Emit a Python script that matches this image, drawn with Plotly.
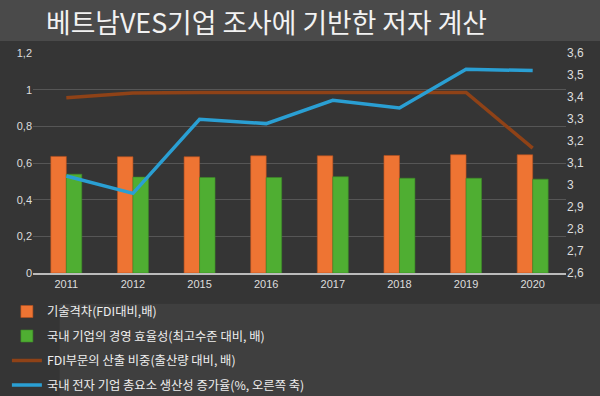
import plotly.graph_objects as go

years = ["2011", "2012", "2015", "2016", "2017", "2018", "2019", "2020"]
tech_gap = [0.636, 0.634, 0.634, 0.639, 0.639, 0.641, 0.645, 0.645]
mgmt_eff = [0.539, 0.523, 0.521, 0.521, 0.525, 0.517, 0.517, 0.512]
fdi_share = [0.956, 0.982, 0.985, 0.985, 0.987, 0.987, 0.985, 0.681]
tfp_growth = [3.041, 2.962, 3.299, 3.279, 3.385, 3.350, 3.526, 3.520]

names = [
    "기술격차(FDI대비,배)",
    "국내 기업의 경영 효율성(최고수준 대비, 배)",
    "FDI부문의 산출 비중(출산량 대비, 배)",
    "국내 전자 기업 총요소 생산성 증가율(%, 오른쪽 축)",
]
title_text = "베트남VES기업 조사에 기반한 저자 계산"
left_ticks = [0, 0.2, 0.4, 0.6, 0.8, 1.0, 1.2]
left_labels = ["0", "0,2", "0,4", "0,6", "0,8", "1", "1,2"]
right_ticks = [2.6, 2.7, 2.8, 2.9, 3.0, 3.1, 3.2, 3.3, 3.4, 3.5, 3.6]
right_labels = ["2,6", "2,7", "2,8", "2,9", "3", "3,1", "3,2", "3,3", "3,4", "3,5", "3,6"]

font = "Noto Sans CJK KR"
tick_font = "Liberation Sans"

fig = go.Figure()
fig.add_trace(go.Bar(x=years, y=tech_gap, name=names[0], legendgroup="a",
                     marker=dict(color="#ee7433", line=dict(color="#b8501e", width=0.6))))
fig.add_trace(go.Bar(x=years, y=mgmt_eff, name=names[1], legendgroup="b",
                     marker=dict(color="#4fae32", line=dict(color="#3d8a26", width=0.6))))
fig.add_trace(go.Scatter(x=years, y=fdi_share, name=names[2], legendgroup="c", mode="lines",
                         line=dict(color="#8f4217", width=3.5)))
fig.add_trace(go.Scatter(x=years, y=tfp_growth, name=names[3], legendgroup="d", mode="lines",
                         yaxis="y2", line=dict(color="#2a9fd3", width=3.5)))

# title band
fig.add_shape(type="rect", xref="paper", yref="paper", x0=-0.07, x1=1.07, y0=1.055, y1=1.26,
              fillcolor="#4a4a4a", line=dict(width=0), layer="below")
# legend band
fig.add_shape(type="rect", xref="paper", yref="paper", x0=0.05, x1=1.07, y0=-0.14, y1=-0.58,
              fillcolor="#3f3f3f", line=dict(width=0), layer="below")

fig.add_annotation(text=title_text, xref="paper", yref="paper", x=0.439, y=1.141,
                   showarrow=False, xanchor="center", yanchor="middle",
                   font=dict(family=font, size=26.8, color="#f2f2f2"))

fig.update_layout(
    width=600, height=396,
    margin=dict(l=33, r=34, t=53, b=123, autoexpand=False),
    paper_bgcolor="#353535",
    plot_bgcolor="rgba(0,0,0,0)",
    font=dict(family=font, color="#dddddd", size=11),
    barmode="group",
    bargap=0.535,
    bargroupgap=0,
    showlegend=True,
    legend=dict(
        orientation="v", x=-0.049, xanchor="left",
        yref="container", y=0.25, yanchor="top",
        traceorder="grouped", tracegroupgap=5.5,
        font=dict(family=font, size=12.3, color="#eeeeee"),
        bgcolor="rgba(0,0,0,0)", itemwidth=30,
    ),
    xaxis=dict(
        showgrid=False, tickfont=dict(family=tick_font, size=11, color="#dddddd"),
        showline=True, linecolor="#bbbbbb", linewidth=1.5, ticks="",
    ),
    yaxis=dict(
        range=[0, 1.2], tickvals=left_ticks, ticktext=left_labels,
        showgrid=True, gridcolor="#565656", gridwidth=1, zeroline=False,
        tickfont=dict(family=tick_font, size=11, color="#dddddd"), ticks="",
    ),
    yaxis2=dict(
        range=[2.6, 3.6], tickvals=right_ticks, ticktext=right_labels,
        overlaying="y", side="right", showgrid=False, zeroline=False,
        tickfont=dict(family=tick_font, size=12, color="#dddddd"), ticks="",
    ),
)

fig.write_html(
    "out.html",
    config={"displayModeBar": False},
    post_script="document.body.style.margin='0';document.body.style.background='#353535';",
)
